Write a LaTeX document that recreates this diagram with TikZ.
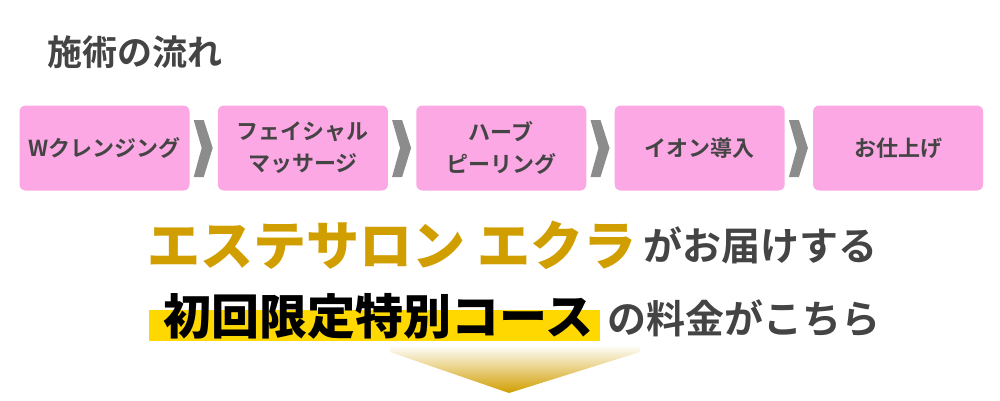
\documentclass[tikz,border=0pt]{standalone}
\usepackage{fontspec}
\newfontfamily\jpfont{Noto Sans CJK JP Bold}
\newfontfamily\jpblack{Noto Sans CJK JP Black}
\usetikzlibrary{positioning}
\definecolor{stepPink}{HTML}{FCA8E4}
\definecolor{textGray}{HTML}{444444}
\definecolor{gold}{HTML}{D19E00}
\definecolor{barYellow}{HTML}{FFD800}

\begin{document}
\begin{tikzpicture}[x=1pt, y=-1pt,
        flow/.style={rectangle, rounded corners=6pt, fill=stepPink, minimum width=170pt, minimum height=85pt, font=\jpfont\fontsize{22}{32}\selectfont, text=textGray, align=center, inner sep=0pt},
        chev/.style={fill=black!45}
      ]
        \useasboundingbox (0,0) rectangle (1000,400);
        \node[font=\jpfont\fontsize{35}{40}\selectfont, text=textGray, anchor=west] (title) at (44,52) {施術の流れ};

        \node[flow]  (s1)  at (104.5,148)       {Wクレンジング};
        \node[flow]  (s2)  [right=28pt of s1]  {フェイシャル\\マッサージ};
        \node[flow]  (s3)  [right=28pt of s2]  {ハーブ\\ピーリング};
        \node[flow]  (s4)  [right=28pt of s3]  {イオン導入};
        \node[flow]  (s5)  [right=28pt of s4]  {お仕上げ};

        \foreach \a in {1,...,4} {
          \fill[chev] ([xshift=4pt,yshift=28pt]s\a.east) -- ++(10,0) -- ++(9,28) -- ++(-9,29) -- ++(-10,0) -- ++(8,-29) -- cycle;
        }

        % lead-in copy
        \node[font=\jpblack\fontsize{53}{58}\selectfont, text=gold, anchor=west] (salon) at (144,245) {エステサロン エクラ};
        \node[font=\jpfont\fontsize{39}{44}\selectfont, text=textGray, anchor=west] (brings) [right=0pt of salon] {がお届けする};

        \fill[barYellow] (149,310) rectangle (600,341);
        \node[font=\jpblack\fontsize{48}{52}\selectfont, text=black, anchor=west] (course) at (160,316) {初回限定特別コース};
        \node[font=\jpfont\fontsize{39}{44}\selectfont, text=textGray, anchor=west] (price) at (604,318) {の料金がこちら};

        \shade[top color=white, bottom color=gold] (390,345) -- (640,345) -- (640,352) -- (509,393) -- (390,352) -- cycle;
      \end{tikzpicture}
\end{document}
